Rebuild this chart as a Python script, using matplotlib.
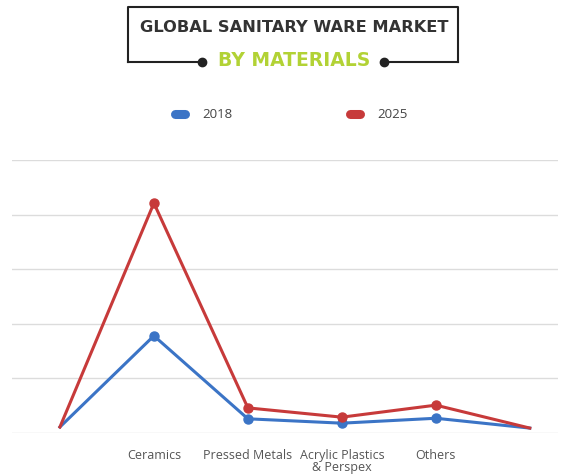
import matplotlib
matplotlib.use("Agg")
import matplotlib.pyplot as plt
from matplotlib.lines import Line2D

# Données (unités arbitraires, 10 par ligne de grille)
categories = ["", "Ceramics", "Pressed Metals", "Acrylic Plastics\n& Perspex", "Others", ""]
values_2018 = [1.1, 17.8, 2.6, 1.8, 2.7, 0.9]
values_2025 = [1.1, 42.1, 4.6, 2.9, 5.1, 0.9]
years = ["2018", "2025"]

blue = "#3b74c6"
red = "#c73a3a"

plt.rcParams["font.family"] = ["Open Sans", "DejaVu Sans"]

W, H = 569, 474
fig = plt.figure(figsize=(W / 100, H / 100), dpi=100)
ax = fig.add_axes([12 / W, 41 / H, 546 / W, 273 / H])

x = list(range(len(categories)))
ax.plot(x, values_2018, color=blue, lw=2.2, marker="o", ms=6.5,
        markevery=[1, 2, 3, 4], zorder=3)
ax.plot(x, values_2025, color=red, lw=2.2, marker="o", ms=6.5,
        markevery=[1, 2, 3, 4], zorder=3)

ax.set_ylim(0, 50)
ax.set_xlim(-0.51, 5.3)
ax.set_yticks([0, 10, 20, 30, 40, 50])
ax.yaxis.grid(True, color="#dcdcdc", lw=1)
ax.set_axisbelow(True)
ax.tick_params(axis="y", left=False, labelleft=False)
ax.set_xticks(x)
ax.set_xticklabels(categories, fontsize=9, color="#555555", linespacing=0.95)
ax.tick_params(axis="x", bottom=False, pad=8)
for s in ax.spines.values():
    s.set_visible(False)

# Légende
for xc, yr, col in [(180, years[0], blue), (355, years[1], red)]:
    fig.add_artist(Line2D([(xc - 5) / W, (xc + 5) / W], [1 - 114 / H] * 2,
                          color=col, lw=6.5, solid_capstyle="round"))
    fig.text((xc + 22) / W, 1 - 114 / H, yr, fontsize=9.5, color="#444444",
             va="center", ha="left")

# Cadre du titre
fig.add_artist(Line2D([128 / W, 128 / W, 458 / W, 458 / W], [1 - 62 / H, 1 - 7 / H, 1 - 7 / H, 1 - 62 / H],
                      color="#222222", lw=1.5))
fig.add_artist(Line2D([128 / W, 202 / W], [1 - 62 / H] * 2, color="#222222", lw=1.5))
fig.add_artist(Line2D([384 / W, 458 / W], [1 - 62 / H] * 2, color="#222222", lw=1.5))
fig.add_artist(Line2D([202 / W, 384 / W], [1 - 62 / H] * 2, color="#222222", lw=0,
                      marker="o", ms=6, markevery=[0, 1]))
fig.text(294 / W, 1 - 27 / H, "GLOBAL SANITARY WARE MARKET", fontsize=11.7,
         fontweight="bold", color="#333333", ha="center", va="center",
         family="DejaVu Sans")
fig.text(294 / W, 1 - 61 / H, "BY MATERIALS", fontsize=13.5, fontweight="semibold",
         color="#b2d235", ha="center", va="center", family="DejaVu Sans")

fig.savefig("out.png", dpi=100, facecolor="white")
